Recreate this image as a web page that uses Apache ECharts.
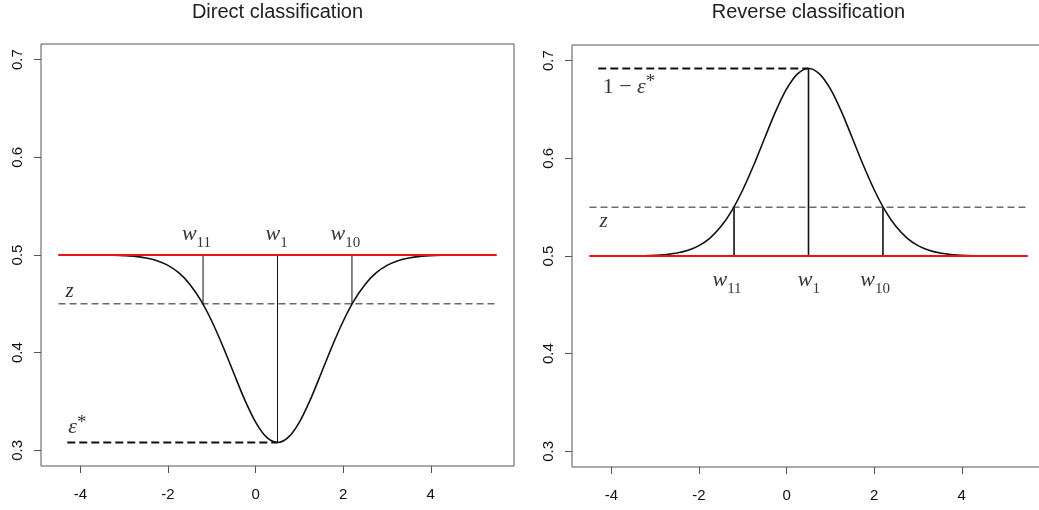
<!DOCTYPE html>
<html>
<head>
<meta charset="utf-8">
<script src="https://cdn.jsdelivr.net/npm/echarts@6/dist/echarts.min.js"></script>
<style>html,body{margin:0;padding:0;background:#fff;}#c{width:1039px;height:510px;}</style>
</head>
<body>
<div id="c"></div>
<script>
// ---- data ----
const titles = ['Direct classification', 'Reverse classification'];
const xTicks = [-4, -2, 0, 2, 4];
const yTicks = [0.3, 0.4, 0.5, 0.6, 0.7];
const xs = [-4.5,-4.25,-4,-3.75,-3.5,-3.25,-3,-2.75,-2.5,-2.25,-2,-1.75,-1.5,-1.25,-1,-0.75,-0.5,-0.25,0,0.25,0.5,0.75,1,1.25,1.5,1.75,2,2.25,2.5,2.75,3,3.25,3.5,3.75,4,4.25,4.5,4.75,5,5.25,5.5];
const directY = [0.5,0.5,0.5,0.5,0.4999,0.4997,0.4993,0.4986,0.4970,0.4942,0.4894,0.4816,0.4699,0.4535,0.4322,0.4069,0.3792,0.3520,0.3290,0.3135,0.3080,0.3135,0.3290,0.3520,0.3792,0.4069,0.4322,0.4535,0.4699,0.4816,0.4894,0.4942,0.4970,0.4986,0.4993,0.4997,0.4999,0.5,0.5,0.5,0.5];
const reverseY = [0.5,0.5,0.5,0.5,0.5001,0.5003,0.5007,0.5014,0.5030,0.5058,0.5106,0.5184,0.5301,0.5465,0.5678,0.5931,0.6208,0.6480,0.6710,0.6865,0.6920,0.6865,0.6710,0.6480,0.6208,0.5931,0.5678,0.5465,0.5301,0.5184,0.5106,0.5058,0.5030,0.5014,0.5007,0.5003,0.5001,0.5,0.5,0.5,0.5];
const baseLevel = 0.5;
const lineXRange = [-4.5, 5.5];
const zLevel = [0.45, 0.55];
const epsLevel = [0.308, 0.692];
const epsXStart = -4.3;
const wX = [-1.2, 0.5, 2.2];
const wEndDirect = [0.45, 0.308, 0.45];
const wEndReverse = [0.55, 0.692, 0.55];
const wSubs = ['11', '1', '10'];
const directLabelPts = [[-1.35, 0.5215], [0.48, 0.5215], [2.05, 0.5215]];
const reverseLabelPts = [[-1.36, 0.4754], [0.51, 0.4754], [2.02, 0.4754]];
const zLabelPts = [[-4.25, 0.463], [-4.18, 0.535]];
const epsLabelPts = [[-4.07, 0.3236], [-3.6, 0.673]];
const epsTexts = ['{e|ε}{sup|*}', '{n|1 − }{e|ε}{sup|*}'];

// ---- chart ----
const chart = echarts.init(document.getElementById('c'));
const SERIF = 'Liberation Serif, DejaVu Serif, serif';
const SANS = 'Liberation Sans, Arial, sans-serif';
const INK = '#000';
const rich = {
  w: { fontFamily: SERIF, fontStyle: 'italic', fontSize: 22, color: INK, verticalAlign: 'top', lineHeight: 22 },
  s: { fontFamily: SERIF, fontSize: 15, color: INK, padding: [18, 0, 0, 0], lineHeight: 15 },
  z: { fontFamily: SERIF, fontStyle: 'italic', fontSize: 21, color: INK },
  n: { fontFamily: SERIF, fontSize: 22, color: INK, verticalAlign: 'bottom', lineHeight: 22 },
  e: { fontFamily: SERIF, fontStyle: 'italic', fontSize: 22, color: INK, verticalAlign: 'bottom', lineHeight: 22 },
  sup: { fontFamily: SERIF, fontSize: 19, color: INK, padding: [0, 0, 9, 0], lineHeight: 19 }
};
const grids = [
  { left: 41, top: 44, width: 473, height: 422 },
  { left: 572, top: 45, width: 473, height: 422 }
];
const boxColor = '#555';
const option = {
  animation: false,
  backgroundColor: '#fff',
  title: titles.map((t, i) => ({
    text: t,
    left: grids[i].left + grids[i].width / 2,
    textAlign: 'center',
    top: 2,
    padding: 0,
    textStyle: { fontFamily: SANS, fontSize: 20, fontWeight: 'normal', color: '#222' }
  })),
  grid: grids.map(g => Object.assign({ show: true, borderColor: boxColor, borderWidth: 1, backgroundColor: 'transparent', outerBoundsMode: 'none', containLabel: false }, g)),
  xAxis: grids.map((g, i) => ({
    type: 'value', gridIndex: i, min: -4.9, max: 5.9,
    splitLine: { show: false },
    axisLine: { show: false, onZero: false },
    axisTick: { show: true, length: 7, inside: false, customValues: xTicks, lineStyle: { color: boxColor, width: 1 } },
    axisLabel: { customValues: xTicks, margin: 21, fontFamily: SANS, fontSize: 15, color: '#111', formatter: v => String(v) }
  })),
  yAxis: grids.map((g, i) => ({
    type: 'value', gridIndex: i, min: 0.284, max: 0.716,
    splitLine: { show: false },
    axisLine: { show: false, onZero: false },
    axisTick: { show: true, length: 7, inside: false, customValues: yTicks, lineStyle: { color: boxColor, width: 1 } },
    axisLabel: { customValues: yTicks, rotate: 90, margin: 16, fontFamily: SANS, fontSize: 15, color: '#111', formatter: v => v.toFixed(1) }
  })),
  series: []
};

function seg(i, pts, style, z, smooth) {
  return { type: 'line', xAxisIndex: i, yAxisIndex: i, data: pts, showSymbol: false, symbol: 'none', silent: true, z: z || 2, smooth: smooth || false, lineStyle: style };
}
function textPts(i, pts, formatter) {
  return {
    type: 'scatter', xAxisIndex: i, yAxisIndex: i, symbolSize: 0, silent: true, z: 10,
    data: pts,
    label: { show: true, position: 'inside', align: 'center', verticalAlign: 'middle', formatter: formatter, rich: rich }
  };
}

[directY, reverseY].forEach((ys, i) => {
  const wEnd = i === 0 ? wEndDirect : wEndReverse;
  option.series.push(seg(i, xs.map((x, k) => [x, ys[k]]), { color: '#111', width: 1.6 }, 3, 0.3));
  option.series.push(seg(i, [[lineXRange[0], zLevel[i]], [lineXRange[1], zLevel[i]]], { color: '#222', width: 1, type: [7, 4] }, 2));
  option.series.push(seg(i, [[epsXStart, epsLevel[i]], [wX[1], epsLevel[i]]], { color: '#111', width: 2, type: [8, 4] }, 2));
  wX.forEach((x, k) => {
    option.series.push(seg(i, [[x, baseLevel], [x, wEnd[k]]], { color: '#111', width: i === 0 ? 1 : 1.6 }, 2));
  });
  option.series.push(seg(i, [[lineXRange[0], baseLevel], [lineXRange[1], baseLevel]], { color: '#f01010', width: 2 }, 4));
  const lp = i === 0 ? directLabelPts : reverseLabelPts;
  option.series.push(textPts(i, lp.map((p, k) => ({ value: p, sub: wSubs[k] })), p => '{w|w}{s|' + p.data.sub + '}'));
  option.series.push(textPts(i, [zLabelPts[i]], () => '{z|z}'));
  option.series.push(textPts(i, [epsLabelPts[i]], () => epsTexts[i]));
});

chart.setOption(option);
</script>
</body>
</html>
